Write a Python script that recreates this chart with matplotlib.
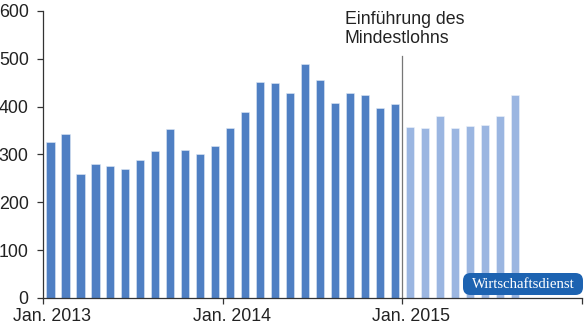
#!/usr/bin/env python3
"""Monthly bars 2013-2015 with the minimum-wage introduction marked."""

import matplotlib
matplotlib.use("Agg")
import matplotlib.pyplot as plt
import matplotlib.transforms as mtransforms
from matplotlib.patches import FancyBboxPatch
import numpy as np

# values per month, Jan. 2013 .. Dec. 2014 (before) and Jan. 2015 .. Aug. 2015 (after)
before = [326, 342, 260, 281, 276, 269, 288, 307, 353, 310, 300, 317,
          355, 388, 452, 449, 429, 489, 455, 407, 428, 425, 398, 405]
after = [358, 355, 381, 356, 360, 362, 381, 424]
tick_months = [0, 12, 24, 36]
tick_labels = ["Jan. 2013", "Jan. 2014", "Jan. 2015", ""]
y_ticks = [0, 100, 200, 300, 400, 500, 600]
note = "Einführung des\nMindestlohns"

DARK = "#4f7fc3"
LIGHT = "#9bb6e1"
BADGE = "#1d63b1"
FONT = ["Liberation Sans", "DejaVu Sans"]
FS = 12.8

plt.rcParams["font.family"] = FONT

fig = plt.figure(figsize=(5.85, 3.26), dpi=100)
ax = fig.add_axes([43 / 585, 28 / 326, 539 / 585, 287 / 326])

x_before = np.arange(len(before)) + 0.5
x_after = np.arange(len(after)) + len(before) + 0.5
ax.bar(x_before, before, width=0.55, color=DARK, edgecolor="#dfe8f5", linewidth=0.4)
ax.bar(x_after, after, width=0.55, color=LIGHT, edgecolor="#eef3fa", linewidth=0.4)

ax.set_xlim(0, 36)
ax.set_ylim(0, 600)
ax.set_yticks(y_ticks)
ax.set_xticks(tick_months)
ax.set_xticklabels(tick_labels)

for side in ("top", "right"):
    ax.spines[side].set_visible(False)
for side in ("left", "bottom"):
    ax.spines[side].set_color("#333333")
    ax.spines[side].set_linewidth(0.9)
ax.tick_params(axis="both", labelsize=FS, colors="#333333", labelcolor="#222222",
               length=4.3, width=0.9)
ax.tick_params(axis="x", pad=3)
ax.tick_params(axis="y", pad=6)

offset = mtransforms.ScaledTranslation(9 / 100, 0, fig.dpi_scale_trans)
for label in ax.get_xticklabels():
    label.set_transform(label.get_transform() + offset)

# marker for the minimum wage introduction
ax.plot([len(before), len(before)], [0, 506], color="#777777", lw=0.9, clip_on=False)
ax.text(len(before) - 3.85, 600, note, fontsize=FS, color="#222222",
        ha="left", va="top", linespacing=1.15)

# badge
bx0, by0, bw, bh = 463 / 585, 31 / 326, 120 / 585, 22 / 326
badge = FancyBboxPatch((bx0, by0), bw, bh, boxstyle="round,pad=0,rounding_size=0.013",
                       transform=fig.transFigure, facecolor=BADGE, edgecolor="none",
                       mutation_aspect=585 / 326)
fig.patches.append(badge)
fig.text(bx0 + bw / 2, by0 + bh / 2, "Wirtschaftsdienst", color="white",
         family=["Liberation Serif", "DejaVu Serif"], fontsize=10.6,
         ha="center", va="center")

fig.savefig("out.png", dpi=100)
